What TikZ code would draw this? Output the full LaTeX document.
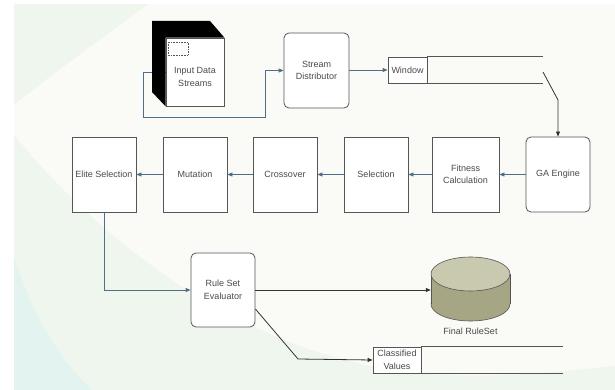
\documentclass[tikz,border=0pt]{standalone}
\usepackage{fontspec}
\setmainfont{Liberation Sans}
\usepackage{xcolor}
\usepackage{tikz}
\usetikzlibrary{arrows.meta}
\definecolor{bg}{HTML}{FAFBF6}
\definecolor{bggreen}{HTML}{EEF6EE}
\definecolor{bgcyan}{HTML}{E3F3EF}
\definecolor{edge}{HTML}{555555}
\definecolor{txt}{HTML}{4A4A4A}
\definecolor{flowc}{HTML}{4F6E88}
\definecolor{cyltop}{HTML}{C9C9B0}
\definecolor{cylbody}{HTML}{A6A684}

\tikzset{
  lbl/.style={text=txt,align=center,font=\fontsize{9}{12.5}\selectfont},
  blk/.style={lbl,draw=edge,line width=0.8pt,fill=white,minimum width=64pt,minimum height=75pt,inner sep=1pt},
  rblk/.style={blk,rounded corners=5pt},
  store/.style={lbl,draw=edge,line width=0.8pt,fill=white,minimum height=26pt,inner sep=2pt},
  flow/.style={draw=flowc,line width=0.8pt,-{Triangle[length=5pt,width=4pt]}},
  dflow/.style={draw=black!80,line width=0.8pt,-{Triangle[length=5pt,width=4pt]}}
}

\begin{document}
\begin{tikzpicture}[x=1pt,y=-1pt]
  \useasboundingbox (0,0) rectangle (615,390);
  % background
  \fill[white] (0,0) rectangle (615,390);
  \fill[bg] (14,4) rectangle (615,390);
  \fill[bggreen] (14,4) -- (148,4) .. controls (100,40) and (50,75) .. (14,105) -- cycle;
  \fill[bggreen] (14,135) .. controls (120,265) and (280,372) .. (450,375)
    .. controls (530,377) and (580,369) .. (615,366) -- (615,390) -- (14,390) -- cycle;
  \fill[bgcyan] (14,258) .. controls (35,320) and (60,360) .. (92,390) -- (14,390) -- cycle;

  % input and stream
  \node[blk,minimum width=58pt,minimum height=68pt] (in) at (195,72) {\\[4pt]Input Data\\Streams};
  \draw[densely dotted,edge,line width=0.6pt] (168,42) rectangle (188,55);
  \node[rblk,minimum width=65pt] (sd) at (316.5,70.5) {Stream\\Distributor};
  \draw[flow] (in.west) -- (143,72) -- (143,117) -- (265,117) |- (sd.west);
  \fill[black] (152,21) -- (210,21) -- (in.north east) -- (in.north west)
    -- (in.south west) -- (152,92) -- cycle;

  \node[store,minimum width=39pt] (win) at (407.5,70) {Window};
  \draw[edge,line width=0.8pt] (win.north east) -- ++(116,0);
  \draw[edge,line width=0.8pt] (win.south east) -- ++(116,0);
  \draw[flow] (sd.east |- win.west) -- (win.west);

  % GA loop
  \node[rblk] (ga) at (558,174.5) {GA Engine};
  \node[blk,minimum width=67pt] (fc) at (465.5,174.5) {Fitness\\Calculation};
  \node[blk] (sel) at (376,174.5) {Selection};
  \node[blk] (cx) at (285,174.5) {Crossover};
  \node[blk] (mut) at (195,174.5) {Mutation};
  \node[blk] (es) at (104,174.5) {Elite Selection};

  \coordinate (wout) at (543,72);
  \draw[dflow] (wout) -- (558,100) -- (ga.north);
  \draw[flow] (ga.west) -- (fc.east);
  \draw[flow] (fc.west) -- (sel.east);
  \draw[flow] (sel.west) -- (cx.east);
  \draw[flow] (cx.west) -- (mut.east);
  \draw[flow] (mut.west) -- (es.east);

  % evaluation
  \node[rblk,minimum height=74pt] (rse) at (223,290) {Rule Set\\Evaluator};
  \draw[flow] (es.south) |- (rse.west);

  \node[minimum width=79pt,minimum height=64pt,inner sep=0pt] (frs) at (470.5,290) {};
  \draw[edge,line width=0.6pt,fill=cylbody] (470.5,304) ellipse[x radius=39.5,y radius=17];
  \fill[cylbody] (431,274) rectangle (510,304);
  \draw[edge,line width=0.6pt] (431,274) -- (431,304) (510,274) -- (510,304);
  \draw[edge,line width=0.6pt,fill=cyltop] (470.5,274) ellipse[x radius=39.5,y radius=17];
  \node[lbl] (frslbl) at (470.5,331) {Final RuleSet};
  \draw[dflow] (rse.east) -- (rse.east -| frs.west);

  \node[store,minimum width=48pt] (cv) at (397,360) {Classified\\Values};
  \draw[edge,line width=0.8pt] (cv.north east) -- ++(142,0);
  \draw[edge,line width=0.8pt] (cv.south east) -- ++(142,0);
  \draw[dflow] ([yshift=-19pt]rse.east) -- (298,359) -- (cv.west);
\end{tikzpicture}
\end{document}
